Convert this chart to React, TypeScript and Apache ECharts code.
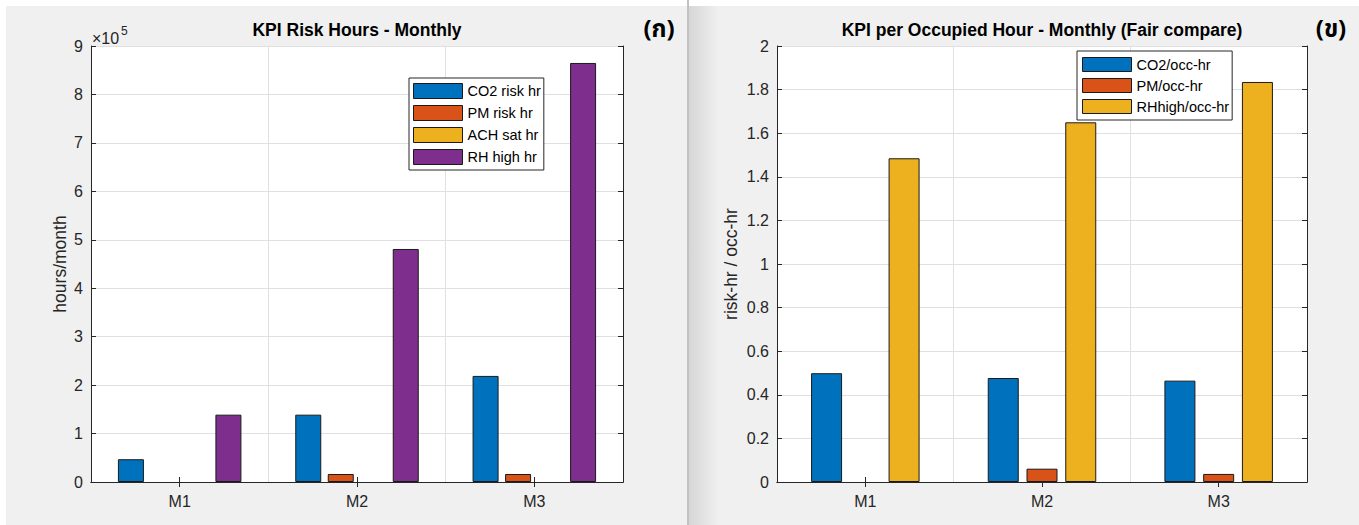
import React, { useEffect, useRef } from "react";
import * as echarts from "echarts";

// Monthly KPI data
const months = ["M1", "M2", "M3"];

// Left panel: risk hours per month (hours)
const co2RiskHr = [47000, 139000, 219000];
const pmRiskHr = [0, 16500, 16500];
const achSatHr = [0, 0, 0];
const rhHighHr = [139000, 481000, 865000];

// Right panel: risk hours per occupied hour
const co2PerOcc = [0.499, 0.477, 0.465];
const pmPerOcc = [0, 0.061, 0.037];
const rhHighPerOcc = [1.485, 1.65, 1.835];

const leftTicks = [0, 1, 2, 3, 4, 5, 6, 7, 8, 9];
const rightTicks = [0, 0.2, 0.4, 0.6, 0.8, 1, 1.2, 1.4, 1.6, 1.8, 2];

const BLUE = "#0072BD";
const ORANGE = "#D95319";
const YELLOW = "#EDB120";
const PURPLE = "#7E2F8E";
const INK = "#262626";
const GRID = "#e0e0e0";
const FONT = "Arial, 'Liberation Sans', Helvetica, sans-serif";

const W = 1359;
const H = 525;

const G1 = { left: 91, top: 46, width: 532, height: 436 };
const G2 = { left: 777, top: 46, width: 530, height: 436 };

export default function App() {
  const ref = useRef<HTMLDivElement>(null);

  useEffect(() => {
    if (!ref.current) return;
    const chart = echarts.init(ref.current, undefined, { renderer: "svg" });

    const baseX = (gridIndex: number) => ({
      type: "category",
      gridIndex,
      data: months,
      axisLine: { show: true, lineStyle: { color: INK, width: 1 } },
      axisTick: { show: true, inside: true, alignWithLabel: true, length: 5, lineStyle: { color: INK } },
      axisLabel: { show: true, color: INK, fontSize: 16, fontFamily: FONT, margin: 11 },
      splitLine: { show: true, lineStyle: { color: GRID, width: 1 } },
    });
    const topX = (gridIndex: number) => ({
      type: "category",
      gridIndex,
      position: "top",
      data: months,
      axisLine: { show: true, lineStyle: { color: INK, width: 1 } },
      axisTick: { show: true, inside: true, alignWithLabel: true, length: 5, lineStyle: { color: INK } },
      axisLabel: { show: false },
      splitLine: { show: false },
    });

    const leftY = {
      type: "value",
      gridIndex: 0,
      min: leftTicks[0] * 1e5,
      max: leftTicks[leftTicks.length - 1] * 1e5,
      interval: 1e5,
      name: "hours/month",
      nameLocation: "middle",
      nameGap: 22,
      nameTextStyle: { color: INK, fontSize: 17.5, fontFamily: FONT },
      axisLine: { show: true, lineStyle: { color: INK, width: 1 } },
      axisTick: { show: true, inside: true, length: 5, lineStyle: { color: INK } },
      axisLabel: { color: INK, fontSize: 16, fontFamily: FONT, margin: 8, formatter: (v: number) => String(Math.round(v / 1e5)) },
      splitLine: { show: true, lineStyle: { color: GRID, width: 1 } },
    };
    const leftYRight = {
      type: "value",
      gridIndex: 0,
      position: "right",
      min: leftTicks[0] * 1e5,
      max: leftTicks[leftTicks.length - 1] * 1e5,
      interval: 1e5,
      axisLine: { show: true, lineStyle: { color: INK, width: 1 } },
      axisTick: { show: true, inside: true, length: 5, lineStyle: { color: INK } },
      axisLabel: { show: false },
      splitLine: { show: false },
    };
    const rightY = {
      type: "value",
      gridIndex: 1,
      min: rightTicks[0],
      max: rightTicks[rightTicks.length - 1],
      interval: 0.2,
      name: "risk-hr / occ-hr",
      nameLocation: "middle",
      nameGap: 37,
      nameTextStyle: { color: INK, fontSize: 17.5, fontFamily: FONT },
      axisLine: { show: true, lineStyle: { color: INK, width: 1 } },
      axisTick: { show: true, inside: true, length: 5, lineStyle: { color: INK } },
      axisLabel: {
        color: INK,
        fontSize: 16,
        fontFamily: FONT,
        margin: 8,
        formatter: (v: number) => String(Math.round(v * 10) / 10),
      },
      splitLine: { show: true, lineStyle: { color: GRID, width: 1 } },
    };
    const rightYRight = {
      type: "value",
      gridIndex: 1,
      position: "right",
      min: rightTicks[0],
      max: rightTicks[rightTicks.length - 1],
      interval: 0.2,
      axisLine: { show: true, lineStyle: { color: INK, width: 1 } },
      axisTick: { show: true, inside: true, length: 5, lineStyle: { color: INK } },
      axisLabel: { show: false },
      splitLine: { show: false },
    };

    // zero-height bars are left empty so no border sliver is drawn on the axis
    const bar = (name: string, data: number[], color: string, xAxisIndex: number, yAxisIndex: number, width: number) => ({
      type: "bar",
      name,
      data: data.map((v) => (v === 0 ? null : v)),
      xAxisIndex,
      yAxisIndex,
      barWidth: width,
      barGap: "25%",
      itemStyle: { color, borderColor: "#1a1a1a", borderWidth: 1 },
      emphasis: { disabled: true },
    });

    const legendBase = {
      orient: "vertical",
      icon: "rect",
      itemWidth: 49,
      backgroundColor: "#ffffff",
      borderColor: INK,
      borderWidth: 1,
      borderRadius: 0,
      itemStyle: { borderColor: "#1a1a1a", borderWidth: 1 },
      textStyle: { color: "#000", fontSize: 14.5, fontFamily: FONT, lineHeight: 15 },
      selectedMode: false,
    };

    chart.setOption({
      animation: false,
      backgroundColor: "#f0f0f0",
      grid: [
        { ...G1, show: true, backgroundColor: "#ffffff", borderWidth: 0, containLabel: false },
        { ...G2, show: true, backgroundColor: "#ffffff", borderWidth: 0, containLabel: false },
      ],
      xAxis: [baseX(0), topX(0), baseX(1), topX(1)],
      yAxis: [leftY, leftYRight, rightY, rightYRight],
      legend: [
        {
          ...legendBase,
          left: 409,
          top: 78,
          itemHeight: 15,
          itemGap: 6,
          padding: [5, 3, 5, 4],
          data: ["CO2 risk hr", "PM risk hr", "ACH sat hr", "RH high hr"],
        },
        {
          ...legendBase,
          left: 1077,
          top: 51,
          itemHeight: 14,
          itemGap: 6,
          padding: [6, 3, 6, 5],
          data: ["CO2/occ-hr", "PM/occ-hr", "RHhigh/occ-hr"],
        },
      ],
      series: [
        bar("CO2 risk hr", co2RiskHr, BLUE, 0, 0, 26),
        bar("PM risk hr", pmRiskHr, ORANGE, 0, 0, 26),
        bar("ACH sat hr", achSatHr, YELLOW, 0, 0, 26),
        bar("RH high hr", rhHighHr, PURPLE, 0, 0, 26),
        bar("CO2/occ-hr", co2PerOcc, BLUE, 2, 2, 31),
        bar("PM/occ-hr", pmPerOcc, ORANGE, 2, 2, 31),
        bar("RHhigh/occ-hr", rhHighPerOcc, YELLOW, 2, 2, 31),
      ],
      graphic: [
        // white strips along the top and left edges
        { type: "rect", shape: { x: 0, y: 0, width: W, height: 6 }, style: { fill: "#ffffff" }, silent: true },
        { type: "rect", shape: { x: 0, y: 0, width: 6, height: H }, style: { fill: "#ffffff" }, silent: true },
        // divider between the two panels
        {
          type: "rect",
          shape: { x: 689, y: 0, width: 30, height: H },
          style: {
            fill: new echarts.graphic.LinearGradient(0, 0, 1, 0, [
              { offset: 0, color: "#d6d6d6" },
              { offset: 1, color: "#f0f0f0" },
            ]),
          },
          silent: true,
        },
        { type: "rect", shape: { x: 687, y: 0, width: 2, height: H }, style: { fill: "#c2c2c2" }, silent: true },
        { type: "rect", shape: { x: 689, y: 0, width: W - 689, height: 6 }, style: { fill: "#ffffff" }, silent: true },
        // titles
        {
          type: "text",
          x: G1.left + G1.width / 2,
          y: 30,
          style: { text: "KPI Risk Hours - Monthly", fill: "#000", font: `bold 17.5px ${FONT}`, textAlign: "center", textVerticalAlign: "middle" },
        },
        {
          type: "text",
          x: G2.left + G2.width / 2,
          y: 30,
          style: {
            text: "KPI per Occupied Hour - Monthly (Fair compare)",
            fill: "#000",
            font: `bold 17.5px ${FONT}`,
            textAlign: "center",
            textVerticalAlign: "middle",
          },
        },
        // panel tags
        {
          type: "text",
          x: 659,
          y: 30,
          style: { text: "(ก)", fill: "#000", font: `bold 24px 'Noto Sans Thai', Tahoma, 'DejaVu Sans', sans-serif`, textAlign: "center", textVerticalAlign: "middle" },
        },
        {
          type: "text",
          x: 1331,
          y: 30,
          style: { text: "(ข)", fill: "#000", font: `bold 24px 'Noto Sans Thai', Tahoma, 'DejaVu Sans', sans-serif`, textAlign: "center", textVerticalAlign: "middle" },
        },
        // exponent marker of the left value axis
        {
          type: "text",
          x: 92,
          y: 38,
          style: { text: "×10", fill: INK, font: `16px ${FONT}`, textAlign: "left", textVerticalAlign: "middle" },
        },
        {
          type: "text",
          x: 121,
          y: 31,
          style: { text: "5", fill: INK, font: `12px ${FONT}`, textAlign: "left", textVerticalAlign: "middle" },
        },
      ],
    });

    return () => chart.dispose();
  }, []);

  return <div ref={ref} style={{ position: "fixed", left: 0, top: 0, width: W, height: H }} />;
}
